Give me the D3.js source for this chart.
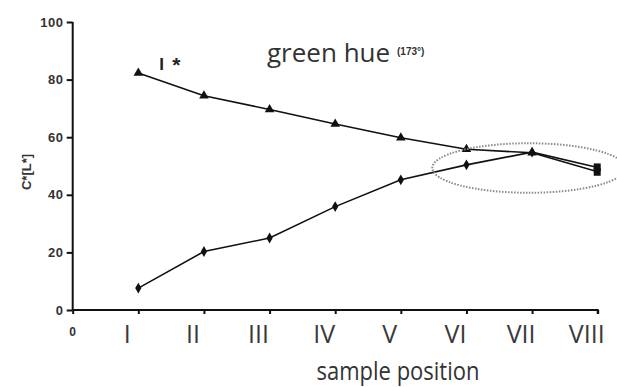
<!DOCTYPE html>
<html>
<head>
<meta charset="utf-8">
<script src="https://cdn.jsdelivr.net/npm/d3@7"></script>
<style>
  html, body { margin: 0; padding: 0; background: #fff; }
  svg { display: block; }
</style>
</head>
<body>
<svg id="chart" width="617" height="387"></svg>
<script>
// ---- data ----
const positions = [1, 2, 3, 4, 5, 6, 7, 8];
const xTickValues = [0, 1, 2, 3, 4, 5, 6, 7, 8];
const xTickLabels = ["0", "I", "II", "III", "IV", "V", "VI", "VII", "VIII"];
const yTickValues = [0, 20, 40, 60, 80, 100];
const lightness = [82.3, 74.4, 69.6, 64.6, 59.8, 55.8, 54.6, 48.0];   // L* (triangles)
const chroma    = [7.6, 20.3, 25.0, 35.9, 45.2, 50.4, 54.8, 49.5];     // C* (diamonds)
// highlighted region (data units): centre position, centre value, half-width (positions), half-height (value)
const highlight = { cx: 6.95, cy: 49.3, rx: 1.47, ry: 8.6 };

const svg = d3.select("#chart");
svg.append("rect").attr("width", 617).attr("height", 387).attr("fill", "#fff");

const x = d3.scaleLinear().domain([0, 8]).range([72.7, 597.7]);
const y = d3.scaleLinear().domain([0, 100]).range([310, 22]);

// axes
const yAxis = d3.axisLeft(y).tickValues(yTickValues).tickSize(6).tickPadding(3).tickFormat(d3.format("d"));
const gy = svg.append("g").attr("transform", `translate(${x(0)},0)`).call(yAxis);
gy.select(".domain").attr("stroke", "#111").attr("stroke-width", 2).attr("d", `M0,${y(100)}V${y(0)}`);
gy.selectAll(".tick line").attr("stroke", "#111").attr("stroke-width", 2);
gy.selectAll(".tick text")
  .attr("font-family", "'Liberation Sans', Arial, sans-serif")
  .attr("font-weight", "bold").attr("font-size", 13).attr("fill", "#333")
  .attr("letter-spacing", 0.6);

const xAxis = d3.axisBottom(x).tickValues(xTickValues).tickSize(4).tickFormat("");
const gx = svg.append("g").attr("transform", `translate(0,${y(0)})`).call(xAxis);
gx.select(".domain").attr("stroke", "#111").attr("stroke-width", 2).attr("d", `M${x(0)},0H${x(8)}V4`);
gx.selectAll(".tick line").attr("stroke", "#111").attr("stroke-width", 2);

// x labels
svg.append("g").selectAll("text").data(xTickValues).join("text")
  .attr("x", d => d === 0 ? x(d) : x(d) - 11)
  .attr("y", d => d === 0 ? 336 : 343)
  .attr("text-anchor", "middle")
  .attr("font-family", d => d === 0 ? "'Liberation Sans', Arial, sans-serif" : "'Open Sans', sans-serif")
  .attr("font-weight", d => d === 0 ? "bold" : "normal")
  .attr("font-size", d => d === 0 ? 12 : 25)
  .attr("fill", d => d === 0 ? "#333" : "#3a3a3a")
  .text((d, i) => xTickLabels[i]);

svg.append("text")
  .attr("transform", "translate(398,380) scale(1,1.12)")
  .attr("text-anchor", "middle")
  .attr("font-family", "'Open Sans', sans-serif")
  .attr("font-size", 22).attr("fill", "#333")
  .text("sample position");

svg.append("text")
  .attr("transform", `translate(31,172) rotate(-90)`)
  .attr("text-anchor", "middle")
  .attr("font-family", "'Liberation Sans', Arial, sans-serif")
  .attr("font-weight", "bold").attr("font-size", 13).attr("fill", "#333")
  .text("C*[L*]");

// title
svg.append("text")
  .attr("x", 267).attr("y", 62)
  .attr("font-family", "'Open Sans', sans-serif")
  .attr("font-size", 26).attr("fill", "#333")
  .text("green hue");
svg.append("text")
  .attr("x", 397).attr("y", 55)
  .attr("font-family", "'Liberation Sans', Arial, sans-serif")
  .attr("font-weight", "bold").attr("font-size", 10).attr("fill", "#333")
  .text("(173°)");

// series label
svg.append("text")
  .attr("x", x(1) + 21).attr("y", y(lightness[0]) - 3)
  .attr("font-family", "'Liberation Sans', Arial, sans-serif")
  .attr("font-weight", "bold").attr("font-size", 17).attr("fill", "#222")
  .text("I");
svg.append("text")
  .attr("x", x(1) + 34).attr("y", y(lightness[0]) - 1)
  .attr("font-family", "'Liberation Sans', Arial, sans-serif")
  .attr("font-weight", "bold").attr("font-size", 21).attr("fill", "#222")
  .text("*");

// lines
const line = d3.line().x(d => x(d[0])).y(d => y(d[1]));
const lData = positions.map((p, i) => [p, lightness[i]]);
const cData = positions.map((p, i) => [p, chroma[i]]);
svg.append("path").datum(lData).attr("d", line)
  .attr("fill", "none").attr("stroke", "#111").attr("stroke-width", 1.6);
svg.append("path").datum(cData).attr("d", line)
  .attr("fill", "none").attr("stroke", "#111").attr("stroke-width", 1.6);

// markers
const tri = d3.symbol().type(d3.symbolTriangle).size(40);
const dia = d3.symbol().type(d3.symbolDiamond).size(34);
svg.append("g").selectAll("path").data(lData.slice(0, 7)).join("path")
  .attr("d", tri).attr("fill", "#111")
  .attr("transform", d => `translate(${x(d[0])},${y(d[1])})`);
svg.append("g").selectAll("path").data(cData.slice(0, 7)).join("path")
  .attr("d", dia).attr("fill", "#111")
  .attr("transform", d => `translate(${x(d[0])},${y(d[1])})`);
svg.append("g").selectAll("rect").data([lData[7], cData[7]]).join("rect")
  .attr("x", d => x(d[0]) - 4).attr("y", d => y(d[1]) - 4)
  .attr("width", 7).attr("height", 8).attr("fill", "#111");

// dotted ellipse highlight
svg.append("ellipse")
  .attr("cx", x(highlight.cx)).attr("cy", y(highlight.cy))
  .attr("rx", x(highlight.rx) - x(0)).attr("ry", y(0) - y(highlight.ry))
  .attr("fill", "none").attr("stroke", "#8a8a8a").attr("stroke-width", 2)
  .attr("stroke-dasharray", "1.5,1.5");
</script>
</body>
</html>
